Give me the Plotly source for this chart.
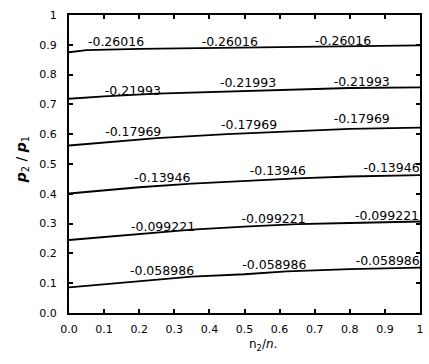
import plotly.graph_objects as go

# Contour levels and their polylines
levels = ["-0.058986", "-0.099221", "-0.13946", "-0.17969", "-0.21993", "-0.26016"]

x_c1 = [0.0, 0.2, 0.35, 0.5, 0.62, 0.8, 1.0]
y_c1 = [0.086, 0.107, 0.122, 0.130, 0.140, 0.147, 0.152]

x_c2 = [0.0, 0.2, 0.35, 0.5, 0.65, 0.8, 1.0]
y_c2 = [0.245, 0.266, 0.280, 0.290, 0.298, 0.302, 0.307]

x_c3 = [0.0, 0.2, 0.35, 0.5, 0.65, 0.8, 1.0]
y_c3 = [0.401, 0.422, 0.434, 0.443, 0.452, 0.458, 0.463]

x_c4 = [0.0, 0.125, 0.25, 0.45, 0.6, 0.8, 1.0]
y_c4 = [0.562, 0.575, 0.587, 0.600, 0.607, 0.618, 0.622]

x_c5 = [0.0, 0.1, 0.25, 0.42, 0.6, 0.8, 1.0]
y_c5 = [0.719, 0.727, 0.736, 0.742, 0.750, 0.755, 0.757]

x_c6 = [0.0, 0.05, 0.2, 0.4, 0.6, 0.8, 1.0]
y_c6 = [0.875, 0.882, 0.886, 0.889, 0.893, 0.896, 0.898]

# label positions (three labels per contour)
lab_x1 = [0.265, 0.585, 0.908]
lab_y1 = [0.139, 0.158, 0.172]
lab_x2 = [0.268, 0.583, 0.906]
lab_y2 = [0.286, 0.314, 0.323]
lab_x3 = [0.266, 0.595, 0.919]
lab_y3 = [0.449, 0.474, 0.482]
lab_x4 = [0.183, 0.513, 0.834]
lab_y4 = [0.605, 0.627, 0.648]
lab_x5 = [0.182, 0.510, 0.834]
lab_y5 = [0.743, 0.768, 0.773]
lab_x6 = [0.134, 0.458, 0.781]
lab_y6 = [0.905, 0.908, 0.910]

tick_vals = [0.0, 0.1, 0.2, 0.3, 0.4, 0.5, 0.6, 0.7, 0.8, 0.9, 1.0]
tick_text = ["0.0", "0.1", "0.2", "0.3", "0.4", "0.5", "0.6", "0.7", "0.8", "0.9", "1"]

lines = [(x_c1, y_c1), (x_c2, y_c2), (x_c3, y_c3), (x_c4, y_c4), (x_c5, y_c5), (x_c6, y_c6)]
labels = [(lab_x1, lab_y1), (lab_x2, lab_y2), (lab_x3, lab_y3),
          (lab_x4, lab_y4), (lab_x5, lab_y5), (lab_x6, lab_y6)]

fig = go.Figure()
for (xs, ys) in lines:
    fig.add_trace(go.Scatter(x=xs, y=ys, mode="lines",
                             line=dict(color="black", width=1.8),
                             hoverinfo="skip", showlegend=False))
for lev, (lx, ly) in zip(levels, labels):
    fig.add_trace(go.Scatter(x=lx, y=ly, mode="text", text=[lev] * len(lx),
                             textfont=dict(family="DejaVu Sans", size=12.5, color="black"),
                             textposition="middle center",
                             hoverinfo="skip", showlegend=False, cliponaxis=False))

axis_common = dict(range=[0, 1], tickvals=tick_vals, ticktext=tick_text,
                   showline=True, linecolor="black", linewidth=2, mirror="ticks",
                   ticks="inside", ticklen=4, tickwidth=1.5, tickcolor="black",
                   showgrid=False, zeroline=False,
                   tickfont=dict(family="DejaVu Sans", size=11, color="black"))

fig.update_layout(
    width=429, height=364,
    margin=dict(l=69, r=5, t=15, b=51),
    plot_bgcolor="white", paper_bgcolor="white",
    xaxis=dict(**axis_common, ticklabelstandoff=5),
    yaxis=dict(**axis_common, ticklabelstandoff=8),
    annotations=[
        dict(text="n<sub>2</sub>/<i>n</i>.", x=0.552, y=-0.107, xref="x", yref="paper",
             yanchor="middle", xanchor="center",
             showarrow=False, font=dict(family="DejaVu Sans", size=12, color="black")),
        dict(text="<b><i>p</i></b><sub>2</sub> / <b><i>p</i></b><sub>1</sub>", x=-0.165, y=0.513,
             xref="paper", yref="paper", textangle=-90, showarrow=False,
             font=dict(family="DejaVu Sans", size=14, color="black")),
    ],
)

fig.write_html("out.html", config={"displayModeBar": False},
               post_script="document.body.style.margin='0';")
